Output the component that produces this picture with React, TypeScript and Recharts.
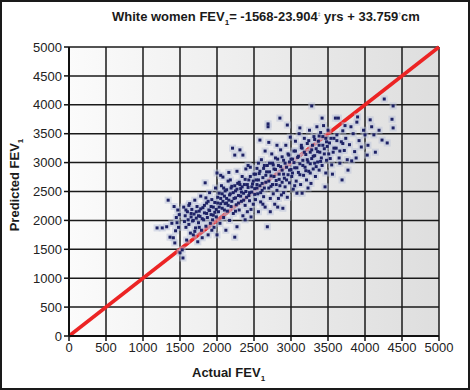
import { ScatterChart, Scatter, XAxis, YAxis, CartesianGrid, ReferenceLine } from "recharts";

// FEV1 values, grouped by actual FEV1 range: [actual, predicted]
const under1500 = [
  [1190, 1870], [1260, 1870], [1320, 1890], [1340, 2350], [1390, 1950], [1365, 1710], [1410, 1700], [1430, 1610],
  [1450, 2050], [1470, 2180], [1420, 2240], [1480, 1880], [1460, 1960], [1500, 1440], [1490, 2100], [1440, 1820],
];
const from1500 = [
  [1530, 1490], [1540, 1350], [1550, 2230], [1560, 1980], [1570, 2080], [1580, 1880], [1590, 1660], [1600, 2150],
  [1610, 2010], [1620, 1930], [1630, 2290], [1640, 1780], [1650, 2060], [1660, 2190], [1670, 1990], [1680, 1750],
  [1690, 2110], [1700, 2350], [1710, 1870], [1720, 2040], [1730, 2240], [1740, 1630], [1750, 1960], [1760, 2160],
  [1770, 2070], [1780, 2420], [1790, 1830], [1800, 1700], [1810, 2220], [1820, 2010], [1830, 2130], [1840, 2650],
  [1850, 1900], [1860, 2300], [1870, 2050], [1880, 1750], [1890, 2180], [1900, 2480], [1910, 1950], [1920, 2100],
  [1930, 2360], [1940, 2010], [1950, 2230], [1960, 1880], [1970, 2140], [1980, 2560], [1990, 2060], [2000, 1750],
  [2000, 2820], [1850, 2390], [1620, 2260], [1760, 1880], [1700, 1810], [1580, 2180], [1930, 1830],
];
const from2000 = [
  [2010, 2300], [2020, 2150], [2030, 2470], [2040, 1950], [2050, 2380], [2060, 2600], [2070, 2210], [2080, 2750],
  [2090, 2050], [2100, 2420], [2110, 2290], [2120, 1830], [2130, 2530], [2140, 2160], [2150, 2680], [2160, 2350],
  [2170, 2000], [2180, 2460], [2190, 2240], [2200, 2590], [2210, 3250], [2220, 2120], [2230, 2380], [2240, 1710],
  [2240, 3130], [2250, 2510], [2260, 2270], [2270, 1890], [2280, 2640], [2290, 2430], [2300, 2180], [2310, 3220],
  [2320, 2550], [2330, 2330], [2340, 2760], [2350, 3130], [2350, 2080], [2360, 2470], [2370, 2620], [2380, 2260],
  [2390, 2890], [2400, 2400], [2410, 2150], [2420, 2570], [2430, 2700], [2440, 2340], [2450, 2920], [2460, 2060],
  [2470, 2490], [2480, 2630], [2490, 2280], [2500, 2800], [2050, 2780], [2130, 2300], [2270, 2850], [2420, 2950],
  [2380, 2010], [2180, 2700], [2330, 2490], [2460, 2190], [2090, 2560], [2250, 2160], [2160, 2830], [2310, 2620],
  [2440, 2480],
];
const from2500 = [
  [2510, 2550], [2520, 2360], [2530, 2700], [2540, 2900], [2550, 2460], [2560, 2150], [2570, 2810], [2580, 3390],
  [2580, 2600], [2590, 2320], [2600, 3050], [2610, 2520], [2620, 2740], [2630, 2410], [2640, 2950], [2650, 2230],
  [2660, 2660], [2670, 2840], [2680, 1890], [2690, 3620], [2690, 3670], [2700, 2560], [2710, 2990], [2720, 2380],
  [2730, 2770], [2740, 3150], [2750, 2620], [2760, 2460], [2770, 2890], [2780, 2280], [2790, 3080], [2800, 2690],
  [2810, 2520], [2820, 2230], [2830, 2950], [2840, 2800], [2850, 3770], [2850, 2600], [2860, 3220], [2870, 2440],
  [2880, 2870], [2890, 2210], [2900, 3040], [2910, 2730], [2920, 2580], [2930, 3300], [2940, 2920], [2950, 3650],
  [2950, 2400], [2960, 2790], [2970, 3130], [2980, 2650], [2990, 3440], [3000, 2880], [2560, 2990], [2650, 3200],
  [2720, 2150], [2810, 3300], [2900, 2480], [2760, 2960], [2620, 2280], [2880, 2660], [2540, 2620], [2980, 3010],
  [2700, 3350], [2830, 2380],
];
const from3000 = [
  [3010, 2760], [3020, 3060], [3030, 2540], [3040, 3200], [3050, 2910], [3060, 3370], [3070, 2680], [3080, 2470],
  [3090, 3090], [3100, 2830], [3110, 3500], [3120, 2980], [3130, 2620], [3140, 3260], [3150, 2470], [3160, 3040],
  [3170, 2780], [3180, 3420], [3190, 2920], [3200, 3140], [3210, 2700], [3220, 3330], [3230, 3010], [3240, 2850],
  [3250, 3560], [3260, 3180], [3270, 2640], [3280, 3980], [3280, 3070], [3290, 3300], [3300, 2890], [3310, 3450],
  [3320, 3120], [3330, 2760], [3340, 3240], [3350, 3620], [3360, 3010], [3370, 3370], [3380, 2870], [3390, 3180],
  [3400, 3520], [3410, 3080], [3420, 3770], [3420, 2950], [3430, 3300], [3440, 3640], [3450, 3150], [3460, 2580],
  [3470, 3420], [3480, 3040], [3490, 3280], [3500, 3560], [3050, 2600], [3150, 3250], [3230, 2560], [3320, 2990],
  [3380, 3460], [3470, 2820], [3120, 3600], [3260, 2820],
];
const from3500 = [
  [3520, 3340], [3550, 2960], [3570, 3180], [3600, 3770], [3620, 3480], [3640, 3770], [3650, 3080], [3660, 2990],
  [3680, 3360], [3690, 2700], [3700, 3550], [3720, 3210], [3740, 3420], [3760, 3050], [3770, 2870], [3790, 3310],
  [3820, 3030], [3840, 3500], [3860, 3190], [3890, 3700], [3900, 3790], [3920, 3380], [3950, 3270], [3980, 3560],
  [4000, 3480], [3530, 3070], [3580, 3420], [3730, 3640], [3610, 3250], [3810, 3620], [3560, 2800], [3880, 3080],
];
const over4000 = [
  [4030, 3130], [4040, 3300], [4070, 3740], [4090, 3620], [4140, 3180], [4230, 3390], [4260, 4100], [4300, 3340],
  [4365, 3750], [4380, 3600], [4380, 3980], [4120, 3480], [4190, 3560],
];
// the dense middle of the cloud
const core = [
  [1650, 2120], [1680, 2000], [1720, 2150], [1750, 2080], [1780, 2200], [1800, 2030], [1830, 2260], [1860, 2120],
  [1880, 2330], [1900, 2170], [1920, 2240], [1950, 2090], [1970, 2310], [1990, 2190], [2010, 2400], [2030, 2230],
  [2050, 2290], [2070, 2460], [2080, 2330], [2100, 2180], [2110, 2510], [2130, 2380], [2150, 2260], [2170, 2440],
  [2190, 2560], [2200, 2330], [2220, 2480], [2240, 2600], [2250, 2390], [2270, 2540], [2290, 2300], [2300, 2660],
  [2320, 2420], [2340, 2580], [2360, 2350], [2380, 2710], [2390, 2500], [2410, 2620], [2430, 2430], [2450, 2760],
  [2470, 2580], [2490, 2680], [2510, 2450], [2520, 2800], [2540, 2560], [2560, 2700], [2580, 2850], [2590, 2480],
  [2610, 2640], [2630, 2900], [2640, 2560], [2660, 2780], [2680, 2950], [2700, 2680], [2710, 2840], [2730, 2590],
  [2750, 2990], [2770, 2760], [2790, 2880], [2800, 2620], [2820, 3060], [2840, 2710], [2860, 2930], [2880, 3100],
  [2900, 2800], [2920, 2990], [2940, 2700], [2960, 3150], [2980, 2870], [3000, 3060], [3020, 2820], [3040, 3000],
  [3060, 3200], [3080, 2910], [3100, 3110], [3120, 2790], [3140, 3300], [3160, 2950], [3180, 3180], [3200, 2860],
  [3220, 3050], [3240, 3380], [3260, 2980], [3280, 3220], [3300, 3110], [3320, 3400], [3340, 2930], [3360, 3190],
  [3380, 3300], [3400, 3020], [3430, 3450], [3450, 3240], [3480, 3360], [3510, 3150], [3540, 3420], [3580, 3250],
  [3620, 3380], [3660, 3200], [3700, 3330],
];

const axisTicks = [0, 500, 1000, 1500, 2000, 2500, 3000, 3500, 4000, 4500, 5000];

const points = [...under1500, ...from1500, ...from2000, ...from2500, ...from3000, ...from3500, ...over4000, ...core].map(
  ([actual, predicted]) => ({ actual, predicted })
);

const font = "'Liberation Sans', Arial, sans-serif";

const Halo = (p: any) => <rect x={p.cx - 3.5} y={p.cy - 3.5} width={7} height={7} fill="#b9c1d9" fillOpacity={0.5} />;
const Dot = (p: any) => <rect x={p.cx - 1.5} y={p.cy - 1.5} width={3} height={3} fill="#1e2266" />;

export default function App() {
  return (
    <div style={{ position: "absolute", left: 0, top: 0, width: 470, height: 390, background: "#fff", fontFamily: font }}>
      <svg width={0} height={0} style={{ position: "absolute" }}>
        <defs>
          <linearGradient id="plotBg" x1="0" y1="0" x2="1" y2="0">
            <stop offset="0%" stopColor="#fbfbfb" />
            <stop offset="100%" stopColor="#dedede" />
          </linearGradient>
        </defs>
      </svg>
      <ScatterChart width={470} height={390} margin={{ top: 47, right: 31, bottom: 30, left: 19 }} style={{ position: "absolute", left: 0, top: 0 }}>
        <CartesianGrid stroke="#1a1a1a" strokeWidth={1.5} fill="url(#plotBg)" fillOpacity={1} />
        <XAxis
          type="number"
          dataKey="actual"
          domain={[0, 5000]}
          ticks={axisTicks}
          interval={0}
          height={24}
          tickSize={5}
          tickMargin={2}
          tick={{ fontSize: 13, fill: "#222", fontFamily: font }}
          axisLine={{ stroke: "#111", strokeWidth: 2 }}
          tickLine={{ stroke: "#111", strokeWidth: 1.5 }}
        />
        <YAxis
          type="number"
          dataKey="predicted"
          domain={[0, 5000]}
          ticks={axisTicks}
          interval={0}
          width={50}
          tickSize={5}
          tickMargin={2}
          tick={{ fontSize: 13, fill: "#222", fontFamily: font }}
          axisLine={{ stroke: "#111", strokeWidth: 2 }}
          tickLine={{ stroke: "#111", strokeWidth: 1.5 }}
        />
        <Scatter data={points} shape={Halo} isAnimationActive={false} />
        <Scatter data={points} shape={Dot} isAnimationActive={false} />
        <ReferenceLine segment={[{ x: 0, y: 0 }, { x: 5000, y: 5000 }]} stroke="#ec2424" strokeWidth={3.5} ifOverflow="visible" />
      </ScatterChart>

      <div style={{ position: "absolute", left: 112, top: 9, fontSize: 13, fontWeight: 700, color: "#1a1a1a", whiteSpace: "nowrap" }}>
        White women FEV<sub style={{ fontSize: 8 }}>1</sub>= -1568-23.904<sup style={{ fontSize: 5, color: "#888" }}>‡</sup> yrs + 33.759
        <sup style={{ fontSize: 5, color: "#888" }}>†</sup>cm
      </div>
      <div style={{ position: "absolute", left: 192, top: 365, fontSize: 13, fontWeight: 700, color: "#1a1a1a", whiteSpace: "nowrap" }}>
        Actual FEV<sub style={{ fontSize: 8 }}>1</sub>
      </div>
      <div
        style={{
          position: "absolute",
          left: 16,
          top: 185,
          transform: "translate(-50%, -50%) rotate(-90deg)",
          fontSize: 13,
          fontWeight: 700,
          color: "#1a1a1a",
          whiteSpace: "nowrap",
        }}
      >
        Predicted FEV<sub style={{ fontSize: 8 }}>1</sub>
      </div>
      <div style={{ position: "absolute", inset: 0, border: "2px solid #1a1a1a", pointerEvents: "none" }} />
    </div>
  );
}
